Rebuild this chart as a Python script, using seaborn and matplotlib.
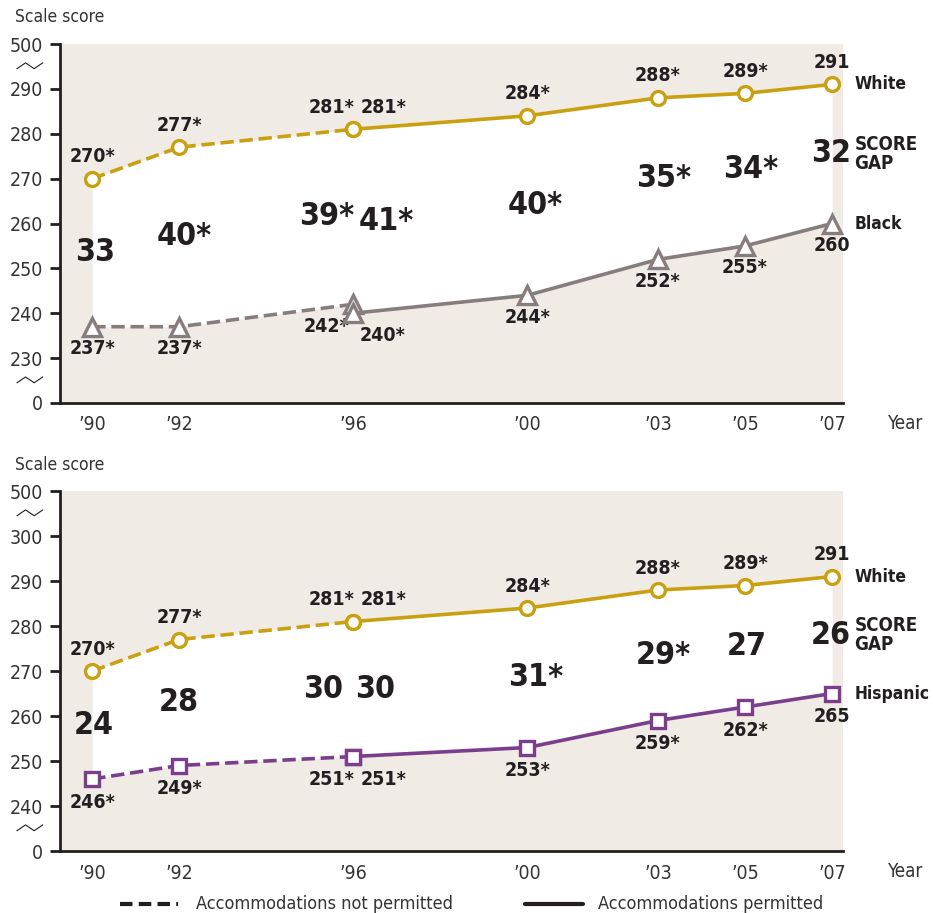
import matplotlib
matplotlib.use('Agg')
import matplotlib.pyplot as plt
import seaborn as sns
import pandas as pd
from matplotlib.lines import Line2D

# --- datos ---
years_np = [1990, 1992, 1996]          # accommodations not permitted
years_p = [1996, 2000, 2003, 2005, 2007]  # accommodations permitted
year_ticks = [1990, 1992, 1996, 2000, 2003, 2005, 2007]
year_labels = ["\u201990", "\u201992", "\u201996", "\u201900", "\u201903", "\u201905", "\u201907"]

white_np = [270, 277, 281]
white_p = [281, 284, 288, 289, 291]
white_lab_np = ["270*", "277*", "281*"]
white_lab_p = ["281*", "284*", "288*", "289*", "291"]

black_np = [237, 237, 242]
black_p = [240, 244, 252, 255, 260]
black_lab_np = ["237*", "237*", "242*"]
black_lab_p = ["240*", "244*", "252*", "255*", "260"]

hisp_np = [246, 249, 251]
hisp_p = [251, 253, 259, 262, 265]
hisp_lab_np = ["246*", "249*", "251*"]
hisp_lab_p = ["251*", "253*", "259*", "262*", "265"]

gap_black = ["33", "40*", "39*", "41*", "40*", "35*", "34*", "32"]
gap_hisp = ["24", "28", "30", "30", "31*", "29*", "27", "26"]

ytick_top = ["0", "230", "240", "250", "260", "270", "280", "290", "500"]
ytick_bot = ["0", "240", "250", "260", "270", "280", "290", "300", "500"]

# --- estilo ---
GOLD = "#C9A010"
GRAY = "#887D7D"
PURPLE = "#7A3E8C"
BEIGE = "#F0ECE5"
INK = "#231F20"

sns.set_theme(style="white")
plt.rcParams["font.family"] = ["DejaVu Sans"]
plt.rcParams["font.stretch"] = "condensed"

fig = plt.figure(figsize=(9.33, 9.13), dpi=100)
ax_top = fig.add_axes([0.0643, 0.5586, 0.8392, 0.3932])
ax_bot = fig.add_axes([0.0643, 0.0679, 0.8392, 0.3943])


def pos(vals, base):
    return [(v - base) / 10 for v in vals]


def serie(ax, xs, ys, color, ls, marker, ms):
    df = pd.DataFrame({"year": xs, "score": ys})
    sns.lineplot(data=df, x="year", y="score", ax=ax, color=color, linestyle=ls,
                 linewidth=2.6, marker=marker, markersize=ms, markerfacecolor="white",
                 markeredgecolor=color, markeredgewidth=2.4, dashes=(3, 2) if ls == "--" else None,
                 sort=False, zorder=4)


def panel(ax, base, lo_np, lo_p, lo_lab_np, lo_lab_p, gaps, gap_dx, color, marker, ms,
          lo_dy, lo96_dx, name, yticks):
    ax.set_facecolor(BEIGE)
    xs = years_np + years_p
    up = pos(white_np + white_p, base)
    lo = pos(lo_np + lo_p, base)
    ax.fill_between(xs, lo, up, color="white", lw=0, zorder=1)

    serie(ax, years_np, pos(white_np, base), GOLD, "--", "o", 10)
    serie(ax, years_p, pos(white_p, base), GOLD, "-", "o", 10)
    serie(ax, years_np, pos(lo_np, base), color, "--", marker, ms)
    serie(ax, years_p, pos(lo_p, base), color, "-", marker, ms)

    txt = dict(fontsize=14, fontweight="bold", color=INK, ha="center", textcoords="offset points")
    # etiquetas de White (arriba)
    for i, (x, v, t) in enumerate(zip(xs, white_np + white_p, white_lab_np + white_lab_p)):
        dx = -16 if i == 2 else (22 if i == 3 else 0)
        ax.annotate(t, (x, (v - base) / 10), xytext=(dx, 9), va="bottom", **txt)
    # etiquetas del grupo inferior (abajo)
    for i, (x, v, t) in enumerate(zip(xs, lo_np + lo_p, lo_lab_np + lo_lab_p)):
        dx = lo96_dx[0] if i == 2 else (lo96_dx[1] if i == 3 else 0)
        ax.annotate(t, (x, (v - base) / 10), xytext=(dx, lo_dy), va="top", **txt)

    # brechas
    for i, (x, t) in enumerate(zip(xs, gaps)):
        mid = ((white_np + white_p)[i] + (lo_np + lo_p)[i]) / 2
        ax.annotate(t, (x, (mid - base) / 10), xytext=(gap_dx[i], 0), textcoords="offset points",
                    ha="center", va="center", fontsize=23, fontweight="bold", color=INK, zorder=5)

    # nombres de las series
    lab = dict(fontsize=12.5, fontweight="bold", color=INK, ha="left", va="center",
               textcoords="offset points", annotation_clip=False)
    ax.annotate("White", (2007, (white_p[-1] - base) / 10), xytext=(16, 0), **lab)
    ax.annotate(name, (2007, (lo_p[-1] - base) / 10), xytext=(16, 0), **lab)
    mid = (white_p[-1] + lo_p[-1]) / 2
    ax.annotate("SCORE\nGAP", (2007, (mid - base) / 10), xytext=(16, 0), linespacing=0.95,
                **{**lab, "fontsize": 13.5})

    ax.set_xlim(1989.26, 2007.25)
    ax.set_ylim(0, 8)
    ax.set_yticks(range(9))
    ax.set_yticklabels(yticks)
    ax.set_xticks(year_ticks)
    ax.set_xticklabels(year_labels)
    ax.set_xlabel("")
    ax.set_ylabel("")
    ax.tick_params(axis="y", length=7, width=2, color=INK, pad=5, labelsize=14, labelcolor="#333333",
                   direction="out", left=True)
    ax.tick_params(axis="x", length=0, pad=9, labelsize=14, labelcolor="#333333")
    for s in ["top", "right"]:
        ax.spines[s].set_visible(False)
    for s in ["left", "bottom"]:
        ax.spines[s].set_color(INK)
        ax.spines[s].set_linewidth(2)
    ax.grid(False)

    # marcas de corte del eje
    tr = ax.get_yaxis_transform()
    for yb in (0.5, 7.5):
        ax.add_line(Line2D([-0.055, -0.044, -0.033, -0.022], [yb - 0.05, yb + 0.08, yb - 0.05, yb + 0.08],
                           transform=tr, color=INK, lw=0.8, clip_on=False))


panel(ax_top, 220, black_np, black_p, black_lab_np, black_lab_p, gap_black,
      [2, 4, -19, 24, 6, 4, 4, -1], GRAY, "^", 13, -9, (-19, 21), "Black", ytick_top)
panel(ax_bot, 230, hisp_np, hisp_p, hisp_lab_np, hisp_lab_p, gap_hisp,
      [1, 0, -22, 16, 6, 4, 1, -1], PURPLE, "s", 10, -10, (-16, 22), "Hispanic", ytick_bot)

fig.text(15 / 933, 1 - 17 / 913, "Scale score", fontsize=12.5, color="#333333", va="center")
fig.text(15 / 933, 1 - 465 / 913, "Scale score", fontsize=12.5, color="#333333", va="center")
fig.text(888 / 933, 1 - 423 / 913, "Year", fontsize=13.5, color="#333333", va="center")
fig.text(888 / 933, 1 - 871 / 913, "Year", fontsize=13.5, color="#333333", va="center")

# leyenda
ly = 1 - 904 / 913
fig.add_artist(Line2D([120 / 933, 178 / 933], [ly, ly], color=INK, lw=3, dashes=(3, 1.5)))
fig.add_artist(Line2D([525 / 933, 583 / 933], [ly, ly], color=INK, lw=3))
fig.text(196 / 933, ly, "Accommodations not permitted", fontsize=13, color="#333333", va="center")
fig.text(598 / 933, ly, "Accommodations permitted", fontsize=13, color="#333333", va="center")

fig.savefig("out.png", dpi=100)
